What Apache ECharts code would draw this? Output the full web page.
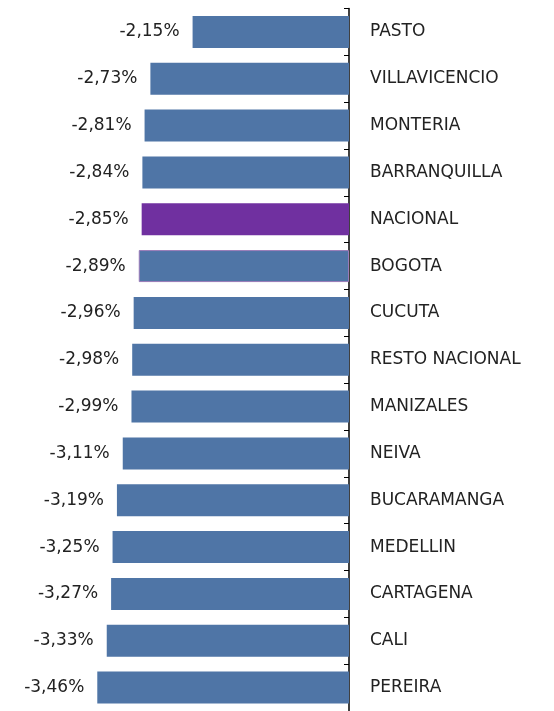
<!DOCTYPE html>
<html>
<head>
<meta charset="utf-8">
<script src="https://cdn.jsdelivr.net/npm/echarts@6/dist/echarts.min.js"></script>
<style>
  html, body { margin: 0; padding: 0; background: #fff; }
  #chart { width: 554px; height: 711px; }
</style>
</head>
<body>
<div id="chart"></div>
<script>
// ciudades, de arriba hacia abajo
const ciudades = ['PASTO', 'VILLAVICENCIO', 'MONTERIA', 'BARRANQUILLA', 'NACIONAL', 'BOGOTA', 'CUCUTA',
  'RESTO NACIONAL', 'MANIZALES', 'NEIVA', 'BUCARAMANGA', 'MEDELLIN', 'CARTAGENA', 'CALI', 'PEREIRA']
const variacion = [-2.15, -2.73, -2.81, -2.84, -2.85, -2.89, -2.96, -2.98, -2.99, -3.11, -3.19, -3.25, -3.27, -3.33, -3.46]

const azul = '#4f75a6'
const morado = '#7030a0'
const fuente = 'DejaVu Sans'

const chart = echarts.init(document.getElementById('chart'))

let datos = variacion.map((v, i) => {
  let item = { value: v }
  if (ciudades[i] === 'NACIONAL') {
    item.itemStyle = { color: morado }
  }
  if (ciudades[i] === 'BOGOTA') {
    item.itemStyle = { color: azul, borderColor: '#9a7bb8', borderWidth: 1 }
  }
  return item
})

let option = {
  animation: false,
  grid: { left: 58, right: 205, top: 8.5, bottom: -2.5 },
  xAxis: {
    type: 'value',
    min: -4,
    max: 0,
    show: false
  },
  yAxis: {
    type: 'category',
    data: ciudades,
    inverse: true,
    position: 'right',
    axisLine: { show: true, onZero: false, lineStyle: { color: '#000', width: 1.5 } },
    axisTick: { show: true, inside: true, length: 5, lineStyle: { color: '#000' } },
    axisLabel: { margin: 21, color: '#222', fontSize: 17, fontFamily: fuente }
  },
  series: [
    {
      type: 'bar',
      data: datos,
      barWidth: 32,
      itemStyle: { color: azul },
      label: {
        show: true,
        position: 'left',
        distance: 13,
        color: '#222',
        fontSize: 17,
        fontFamily: fuente,
        formatter: p => p.value.toFixed(2).replace('.', ',') + '%'
      }
    }
  ]
}

chart.setOption(option)
</script>
</body>
</html>
